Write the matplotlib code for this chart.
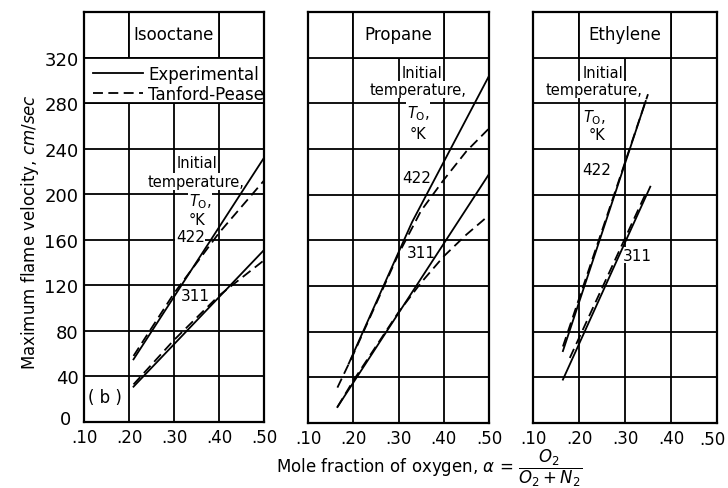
import matplotlib
matplotlib.use("Agg")
import matplotlib.pyplot as plt
from matplotlib.patches import Rectangle
from matplotlib.lines import Line2D

plt.rcParams['font.family'] = ['DejaVu Sans']
plt.rcParams['mathtext.fontset'] = 'dejavusans'

# ---------------- data ----------------
fuels = ["Isooctane", "Propane", "Ethylene"]
x_ticks = [0.10, 0.20, 0.30, 0.40, 0.50]
x_ticklabels = [".10", ".20", ".30", ".40", ".50"]
y_ticks = [0, 40, 80, 120, 160, 200, 240, 280, 320]
y_ticklabels = ["0", "40", "80", "120", "160", "200", "240", "280", "320"]

# Isooctane
iso_exp422_x = [0.21, 0.50]
iso_exp422_y = [55, 232]
iso_tp422_x = [0.21, 0.30, 0.40, 0.50]
iso_tp422_y = [58, 113, 166, 212]
iso_exp311_x = [0.21, 0.50]
iso_exp311_y = [31, 151]
iso_tp311_x = [0.21, 0.30, 0.40, 0.50]
iso_tp311_y = [33, 72, 111, 142]

# Propane
pro_exp422_x = [0.19, 0.33, 0.50]
pro_exp422_y = [52, 176, 304]
pro_tp422_x = [0.165, 0.20, 0.25, 0.30, 0.35, 0.40, 0.45, 0.50]
pro_tp422_y = [31, 60, 104, 148, 186, 213, 238, 258]
pro_exp311_x = [0.165, 0.50]
pro_exp311_y = [14, 218]
pro_tp311_x = [0.165, 0.20, 0.25, 0.30, 0.35, 0.40, 0.45, 0.50]
pro_tp311_y = [14, 37, 67, 97, 123, 146, 165, 182]

# Ethylene
eth_exp422_x = [0.165, 0.345]
eth_exp422_y = [63, 282]
eth_tp422_x = [0.165, 0.35]
eth_tp422_y = [67, 288]
eth_exp311_x = [0.165, 0.355]
eth_exp311_y = [38, 207]
eth_tp311_x = [0.18, 0.345]
eth_tp311_y = [57, 201]

series = [
    [(iso_exp422_x, iso_exp422_y, '-'), (iso_tp422_x, iso_tp422_y, '--'),
     (iso_exp311_x, iso_exp311_y, '-'), (iso_tp311_x, iso_tp311_y, '--')],
    [(pro_exp422_x, pro_exp422_y, '-'), (pro_tp422_x, pro_tp422_y, '--'),
     (pro_exp311_x, pro_exp311_y, '-'), (pro_tp311_x, pro_tp311_y, '--')],
    [(eth_exp422_x, eth_exp422_y, '-'), (eth_tp422_x, eth_tp422_y, '--'),
     (eth_exp311_x, eth_exp311_y, '-'), (eth_tp311_x, eth_tp311_y, '--')],
]

# label positions (x, y) per panel
annot_lines = ["Initial", "temperature,", r"$T_{\rm O}$,", "\u00b0K"]
annot_pos = [
    [(0.351, 228), (0.35, 211), (0.358, 194), (0.351, 178)],
    [(0.352, 307), (0.343, 292), (0.343, 272), (0.343, 254)],
    [(0.252, 307), (0.233, 292), (0.233, 268), (0.239, 253)],
]
pos_422 = [(0.336, 163), (0.341, 215), (0.239, 222)]
pos_311 = [(0.347, 111), (0.35, 149), (0.326, 147)]

# ---------------- figure ----------------
fig = plt.figure(figsize=(7.28, 4.89), dpi=100)
axes_rects = [
    [84 / 728, 1 - 423 / 489, 180 / 728, 410 / 489],
    [308 / 728, 1 - 424 / 489, 181 / 728, 411 / 489],
    [533 / 728, 1 - 424 / 489, 184 / 728, 411 / 489],
]

dash = (0, (5.5, 3))
for i, rect in enumerate(axes_rects):
    ax = fig.add_axes(rect)
    ax.set_xlim(0.10, 0.50)
    ax.set_ylim(0, 360)
    ax.set_xticks(x_ticks)
    xlabels = list(x_ticklabels)
    if i == 2:
        xlabels[-1] = ""
        ax.annotate(x_ticklabels[-1], xy=(1, 0), xycoords='axes fraction',
                    xytext=(-3, -5), textcoords='offset points',
                    ha='center', va='top', fontsize=12)
    ax.set_xticklabels(xlabels, fontsize=12)
    ax.set_yticks(y_ticks)
    if i == 0:
        ylabels = list(y_ticklabels)
        ylabels[0] = ""
        ax.set_yticklabels(ylabels, fontsize=13)
        ax.annotate(y_ticklabels[0], xy=(0, 0), xycoords='axes fraction',
                    xytext=(-9, 2), textcoords='offset points',
                    ha='right', va='center', fontsize=13)
    else:
        ax.set_yticklabels([])
    ax.tick_params(length=0, pad=4)
    ax.set_axisbelow(True)
    ax.grid(True, color='black', lw=1.3)
    for s in ax.spines.values():
        s.set_linewidth(1.6)

    # title box
    ax.add_patch(Rectangle((0.20, 320), 0.20, 40, facecolor='white',
                           edgecolor='black', lw=1.3, zorder=2))
    ax.text(0.30, 341, fuels[i], ha='center', va='center', fontsize=12, zorder=2.5)

    for (xs, ys, ls) in series[i]:
        ax.plot(xs, ys, color='black', lw=1.3,
                linestyle='-' if ls == '-' else dash, zorder=3)

    for txt, (tx, ty) in zip(annot_lines, annot_pos[i]):
        ax.text(tx, ty, txt, ha='center', va='center', fontsize=10.5, zorder=2.5,
                bbox=dict(facecolor='white', edgecolor='none', pad=0.5))
    ax.text(pos_422[i][0], pos_422[i][1], "422", ha='center', va='center',
            fontsize=11, zorder=2.5,
            bbox=dict(facecolor='white', edgecolor='none', pad=0.5))
    ax.text(pos_311[i][0], pos_311[i][1], "311", ha='center', va='center',
            fontsize=11, zorder=2.5,
            bbox=dict(facecolor='white', edgecolor='none', pad=0.5))

    if i == 0:
        ax.add_patch(Rectangle((0.10, 280), 0.40, 40, facecolor='white',
                               edgecolor='black', lw=1.3, zorder=2))
        handles = [Line2D([], [], color='black', lw=1.3, linestyle='-'),
                   Line2D([], [], color='black', lw=1.3, linestyle=dash)]
        leg = ax.legend(handles, ["Experimental", "Tanford-Pease"],
                        loc='upper left', bbox_to_anchor=(0.05, 0.87),
                        frameon=False, fontsize=12, handlelength=3.0,
                        handletextpad=0.3, labelspacing=0.1,
                        borderpad=0, borderaxespad=0)
        leg.set_zorder(4)
        ax.text(0.147, 22, "( b )", ha='center', va='center', fontsize=12)

fig.text(0.041, 0.526, r"Maximum flame velocity, $\mathit{cm/sec}$",
         rotation=90, ha='center', va='center', fontsize=12)
fig.text(0.589, 0.043,
         r"Mole fraction of oxygen, $\alpha$ = $\dfrac{O_2}{O_2+N_2}$",
         ha='center', va='center', fontsize=12)

fig.savefig("out.png", dpi=100)
